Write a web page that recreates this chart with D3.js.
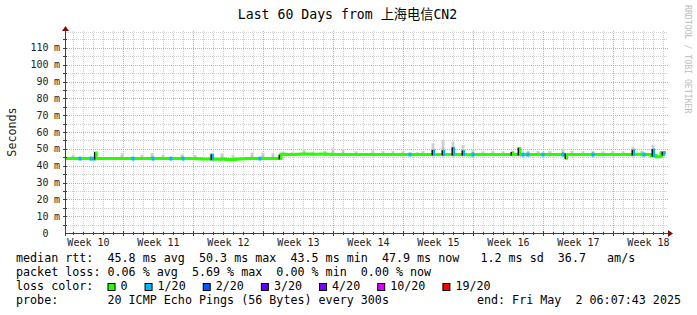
<!DOCTYPE html>
<html>
<head>
<meta charset="utf-8">
<script src="https://cdn.jsdelivr.net/npm/d3@7"></script>
<style>
  body { margin: 0; background: #fff; }
  text { font-family: "DejaVu Sans Mono", "Noto Sans CJK SC", monospace; white-space: pre; }
</style>
</head>
<body>
<svg id="chart" width="697" height="315"></svg>
<script>
// time window of the graph (UTC so the page does not depend on the host zone)
const startTime = Date.UTC(2025, 2, 3, 6, 7, 43);
const endTime = Date.UTC(2025, 4, 2, 6, 7, 43);

const yTicks = [0, 10, 20, 30, 40, 50, 60, 70, 80, 90, 100, 110];

// median rtt in ms, one value per half day (120 steps)
const medianMs = [
  44.3, 44.2, 44.2, 44.3, 44.2, 44.2, 44.3, 44.2, 44.2, 44.2,
  44.2, 44.3, 44.2, 44.2, 44.2, 44.3, 44.2, 44.2, 44.2, 44.2,
  44.2, 44.2, 44.3, 44.2, 44.2, 44.2, 44.1, 43.9, 44.0, 43.9,
  43.8, 43.9, 43.7, 43.6, 43.9, 44.1, 44.2, 44.2, 44.2, 44.3,
  44.2, 44.2, 44.3, 46.8, 46.7, 46.7, 46.8, 46.9, 46.9, 46.8,
  46.8, 46.9, 46.8, 46.7, 46.7, 46.7, 46.7, 46.7, 46.6, 46.6,
  46.6, 46.6, 46.7, 46.6, 46.6, 46.6, 46.6, 46.7, 46.6, 46.6,
  46.6, 46.6, 46.7, 46.7, 46.7, 46.7, 46.7, 46.6, 46.6, 46.6,
  46.5, 46.6, 46.6, 46.6, 46.7, 46.6, 46.6, 46.6, 46.6, 46.6,
  46.6, 46.6, 46.6, 46.6, 46.6, 46.6, 46.6, 46.6, 46.6, 46.6,
  46.6, 46.6, 46.6, 46.6, 46.6, 46.6, 46.6, 46.6, 46.6, 46.7,
  46.7, 46.6, 46.6, 46.6, 46.8, 46.6, 46.6, 46.0, 45.3, 47.7
];

// short median excursions: day offset, median ms, loss level index
const spikeDays =   [1.4, 2.5, 2.8, 2.95, 6.7, 8.7, 10.5, 11.7, 14.6, 19.4, 21.4, 34.4, 36.7, 37.7, 38.7, 39.7, 40.7, 44.6, 45.3, 45.7, 46.2, 47.7, 49.7, 50.0, 52.7, 56.7, 57.8, 58.7, 59.7];
const spikeMs =     [44.2, 44.2, 44.2, 47.6, 44.2, 44.2, 44.2, 44.2, 46.2, 44.2, 46.0, 46.6, 48.7, 48.5, 50.3, 48.4, 46.6, 47.6, 50.2, 46.6, 46.6, 46.6, 46.6, 44.4, 46.6, 48.9, 46.6, 49.3, 46.6];
const spikeLoss =   [1, 1, 1, 0, 1, 1, 1, 1, 1, 1, 0, 1, 1, 1, 1, 1, 1, 0, 0, 1, 1, 1, 1, 0, 1, 1, 1, 1, 1];

// smoke bumps: day offset, highest ping ms, lowest ping ms
const smokeDays = [0.7, 3.0, 5.6, 7.6, 8.6, 9.7, 11.6, 12.9, 14.5, 15.6, 16.7, 18.6, 19.7, 20.7,
  21.7, 22.6, 23.8, 24.7, 25.9, 26.7, 27.7, 29.0, 30.7, 31.7, 32.7, 33.7, 35.1, 35.7, 36.7, 37.7,
  38.7, 39.7, 40.7, 41.7, 42.7, 43.7, 44.7, 45.4, 46.2, 47.2, 48.4, 49.7, 50.6, 51.7, 52.7, 53.7,
  54.7, 55.7, 56.7, 57.6, 58.7, 59.6];
const smokeHi = [46.5, 47.8, 47.3, 46.5, 47.5, 46.5, 46.8, 46.3, 47.5, 47.3, 46.5, 47.8, 47.8, 47.3,
  48.3, 48.0, 49.7, 48.3, 48.8, 50.3, 49.8, 48.5, 49.0, 48.8, 48.8, 48.5, 48.0, 48.8, 53.3, 55.3,
  54.2, 52.3, 49.5, 48.5, 48.8, 48.5, 48.8, 50.5, 49.0, 48.8, 48.8, 50.0, 48.8, 48.5, 48.8, 48.5,
  48.8, 48.5, 51.0, 48.8, 52.5, 48.5];
const smokeLo = [43.6, 43.5, 43.6, 43.6, 43.5, 43.6, 43.5, 43.6, 43.0, 42.8, 43.0, 43.5, 43.5, 43.6,
  45.8, 45.8, 45.8, 45.8, 45.8, 45.8, 45.8, 45.6, 45.6, 45.6, 45.8, 45.6, 45.6, 45.6, 45.5, 45.5,
  45.5, 45.5, 45.6, 45.6, 45.6, 45.6, 45.6, 45.5, 45.6, 45.6, 45.6, 45.5, 45.4, 45.6, 45.6, 45.6,
  45.6, 45.6, 45.5, 45.5, 45.0, 45.0];

const lossLabels = ['0', '1/20', '2/20', '3/20', '4/20', '10/20', '19/20'];
const lossColors = ['#26ff00', '#00b8ff', '#0059ff', '#5e00ff', '#7e00ff', '#dd00ff', '#ff0000'];

const titleText = 'Last 60 Days from 上海电信CN2';
const legendLines = [
  'median rtt:  45.8 ms avg  50.3 ms max  43.5 ms min  47.9 ms now   1.2 ms sd  36.7   am/s',
  'packet loss: 0.06 % avg  5.69 % max  0.00 % min  0.00 % now',
  'loss color:',
  'probe:       20 ICMP Echo Pings (56 Bytes) every 300s'
];
const endText = 'end: Fri May  2 06:07:43 2025';

const svg = d3.select('#chart');
const dayMs = 864e5;
const plot = {left: 66, right: 666, top: 31, bottom: 233};

const x = d3.scaleUtc().domain([startTime, endTime]).range([plot.left, plot.right]);
const y = d3.scaleLinear().domain([0, 120]).range([plot.bottom, plot.top]);
const atDay = d => new Date(startTime + d * dayMs);
const px = v => Math.round(v) + 0.5;
const baseAt = d => medianMs[Math.min(medianMs.length - 1, Math.floor(d * 2))];

svg.append('rect').attr('width', 697).attr('height', 315).attr('fill', '#fff');

// grid
const grid = svg.append('g').attr('stroke-width', 1).attr('stroke-dasharray', '1,1');
const sundays = d3.utcSunday.range(new Date(startTime), new Date(endTime));
const days = d3.utcDay.range(new Date(startTime), new Date(endTime)).filter(d => d.getUTCDay() !== 0);

grid.selectAll('.vmin').data(days).join('line')
  .attr('x1', d => px(x(d))).attr('x2', d => px(x(d)))
  .attr('y1', plot.top).attr('y2', plot.bottom)
  .attr('stroke', '#cfcfcf');
grid.selectAll('.hmin').data(d3.range(5, 120, 10)).join('line')
  .attr('x1', plot.left).attr('x2', plot.right + 2)
  .attr('y1', d => px(y(d))).attr('y2', d => px(y(d)))
  .attr('stroke', '#cfcfcf');
grid.append('line')
  .attr('x1', plot.left).attr('x2', plot.right + 2)
  .attr('y1', px(plot.top + 1)).attr('y2', px(plot.top + 1))
  .attr('stroke', '#cfcfcf');
grid.selectAll('.vmaj').data(sundays).join('line')
  .attr('x1', d => px(x(d))).attr('x2', d => px(x(d)))
  .attr('y1', plot.top).attr('y2', plot.bottom)
  .attr('stroke', '#e9a3a3');
grid.selectAll('.hmaj').data(yTicks.slice(1)).join('line')
  .attr('x1', plot.left - 3).attr('x2', plot.right + 2)
  .attr('y1', d => px(y(d))).attr('y2', d => px(y(d)))
  .attr('stroke', '#e9a3a3');

// smoke
const smoke = svg.append('g');
smokeDays.forEach((d, i) => {
  const cx = x(atDay(d));
  const mid = (smokeHi[i] + baseAt(d)) / 2;
  smoke.append('rect')
    .attr('x', cx - 1.5).attr('width', 3)
    .attr('y', y(smokeHi[i])).attr('height', y(smokeLo[i]) - y(smokeHi[i]))
    .attr('fill', '#d0d0d0');
  smoke.append('rect')
    .attr('x', cx - 0.5).attr('width', 1)
    .attr('y', y(mid)).attr('height', y(smokeLo[i]) - y(mid))
    .attr('fill', '#ababab');
});

// median line
const steps = medianMs.map((v, i) => ({t: atDay(i / 2), v}));
steps.push({t: new Date(endTime), v: medianMs[medianMs.length - 1]});
svg.append('path')
  .datum(steps)
  .attr('fill', 'none')
  .attr('stroke', lossColors[0])
  .attr('stroke-width', 3)
  .attr('d', d3.line().x(d => x(d.t)).y(d => y(d.v)).curve(d3.curveStepAfter));

// excursions and loss marks
const marks = svg.append('g');
spikeDays.forEach((d, i) => {
  const cx = x(atDay(d));
  const base = baseAt(d);
  const col = lossColors[spikeLoss[i]];
  if (Math.abs(spikeMs[i] - base) > 0.4) {
    const top = Math.min(y(spikeMs[i]), y(base)), bot = Math.max(y(spikeMs[i]), y(base));
    marks.append('rect').attr('x', cx - 1.5).attr('width', 1.5)
      .attr('y', top - 1).attr('height', bot - top + 2).attr('fill', '#1a1a1a');
    marks.append('rect').attr('x', cx).attr('width', 2)
      .attr('y', top - 1.5).attr('height', bot - top + 3).attr('fill', col);
  } else {
    marks.append('rect').attr('x', cx - 1.5).attr('width', 3)
      .attr('y', y(base) - 2).attr('height', 4).attr('fill', col);
  }
});

// axes
const axes = svg.append('g').attr('stroke', '#404040');
axes.append('line').attr('x1', plot.left - 0.5).attr('x2', plot.right + 3)
  .attr('y1', px(plot.bottom)).attr('y2', px(plot.bottom));
axes.append('line').attr('x1', px(plot.left - 1)).attr('x2', px(plot.left - 1))
  .attr('y1', plot.bottom + 3).attr('y2', plot.top - 1);
axes.selectAll('.xt').data(days).join('line')
  .attr('x1', d => px(x(d))).attr('x2', d => px(x(d)))
  .attr('y1', plot.bottom - 1).attr('y2', plot.bottom + 2);
axes.selectAll('.xT').data(sundays).join('line')
  .attr('x1', d => px(x(d))).attr('x2', d => px(x(d)))
  .attr('y1', plot.bottom - 2).attr('y2', plot.bottom + 3);
axes.selectAll('.yt').data(d3.range(5, 120, 5)).join('line')
  .attr('x1', plot.left - 3).attr('x2', plot.left + 1)
  .attr('y1', d => px(y(d))).attr('y2', d => px(y(d)));

svg.append('path').attr('fill', '#7f1010')
  .attr('d', `M${plot.left - 4},${plot.top} L${plot.left + 3},${plot.top} L${plot.left - 0.5},${plot.top - 5} Z`);
svg.append('path').attr('fill', '#7f1010')
  .attr('d', `M${plot.right + 2},${plot.bottom - 3} L${plot.right + 2},${plot.bottom + 4} L${plot.right + 7},${plot.bottom + 0.5} Z`);

// y labels: number right-aligned, unit after it
const yl = svg.append('g').attr('font-size', '10px').attr('fill', '#222');
yl.selectAll('.num').data(yTicks).join('text')
  .attr('x', 48.5).attr('y', d => y(d) + 3.5)
  .attr('text-anchor', 'end').text(d => d);
yl.selectAll('.unit').data(yTicks.filter(d => d > 0)).join('text')
  .attr('x', 54).attr('y', d => y(d) + 3.5).text('m');

// week labels centred on each week
const weeks = d3.utcSunday.range(d3.utcSunday.floor(new Date(startTime)), new Date(endTime))
  .map(s => new Date(+s + 3.5 * dayMs))
  .filter(m => +m >= startTime && +m <= endTime);
svg.append('g').attr('font-size', '10px').attr('fill', '#222')
  .selectAll('text').data(weeks).join('text')
  .attr('x', d => x(d)).attr('y', 246).attr('text-anchor', 'middle')
  .text(d => 'Week ' + d3.utcFormat('%V')(d));

// title, unit label, watermark
svg.append('text').attr('x', 347.5).attr('y', 19).attr('text-anchor', 'middle')
  .attr('font-size', '13.2px').attr('fill', '#000').text(titleText);
svg.append('text').attr('transform', 'translate(15.5,132) rotate(-90)')
  .attr('text-anchor', 'middle').attr('font-size', '11.7px').attr('fill', '#222').text('Seconds');
svg.append('text').attr('transform', 'translate(685,5) rotate(90)')
  .attr('font-size', '8.2px').attr('fill', '#bdbdbd').text('RRDTOOL / TOBI OETIKER');

// legend
const legend = svg.append('g').attr('font-size', '11.7px').attr('fill', '#000');
const charW = 7.04;
const lineY = [262, 276, 290, 304];
legendLines.forEach((s, i) => legend.append('text').attr('x', 16).attr('y', lineY[i]).text(s));
legend.append('text').attr('x', 681).attr('y', lineY[3]).attr('text-anchor', 'end').text(endText);

let cursor = 16 + 13 * charW;
lossLabels.forEach((lab, i) => {
  legend.append('rect').attr('x', cursor + 0.5).attr('y', 283.5).attr('width', 7).attr('height', 7)
    .attr('fill', lossColors[i]).attr('stroke', '#000').attr('stroke-width', 1);
  legend.append('text').attr('x', cursor + 13).attr('y', lineY[2]).text(lab);
  cursor += 13 + lab.length * charW + 17;
});
</script>
</body>
</html>
